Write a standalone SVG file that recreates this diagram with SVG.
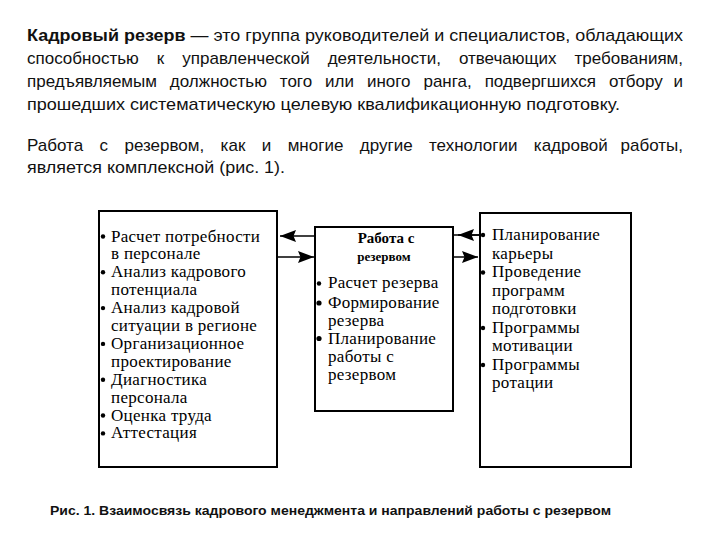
<svg xmlns="http://www.w3.org/2000/svg" width="720" height="540" viewBox="0 0 720 540">
<defs>
<style>
.p{font-family:"Liberation Sans",Arial,sans-serif;font-size:17px;fill:#111}
.e{text-anchor:end}
.b{font-weight:bold}
.cap{font-family:"Liberation Sans",Arial,sans-serif;font-size:13px;font-weight:bold;fill:#111}
.t{font-family:"Liberation Serif","Times New Roman",serif;font-size:17px;letter-spacing:0.3px;fill:#000}
.h{font-family:"Liberation Serif","Times New Roman",serif;font-size:15px;font-weight:bold;fill:#000;text-anchor:middle}
.box{fill:#fff;stroke:#000;stroke-width:2}
.bul{fill:#000}
.con{stroke:#000;stroke-width:1.5;fill:none}
</style>
<marker id="ah" markerUnits="userSpaceOnUse" markerWidth="18" markerHeight="13" refX="16" refY="6.5" orient="auto">
<path d="M0,0.5 L16,6.5 L0,12.5 L2.5,6.5 Z" fill="#000"/>
</marker>
</defs>
<rect width="720" height="540" fill="#fff"/>

<g id="text-para1">
<text class="p" x="27" y="41" textLength="656" lengthAdjust="spacingAndGlyphs"><tspan class="b">Кадровый резерв</tspan> — это группа руководителей и специалистов, обладающих</text>
<text class="p" x="27" y="64" word-spacing="13.3">способностью к управленческой деятельности, отвечающих</text>
<text class="p e" x="683" y="64">требованиям,</text>
<text class="p" x="27" y="87" word-spacing="8.2">предъявляемым должностью того или иного ранга, подвергшихся отбору</text>
<text class="p e" x="683" y="87">и</text>
<text class="p" x="27" y="110" textLength="593" lengthAdjust="spacingAndGlyphs">прошедших систематическую целевую квалификационную подготовку.</text>
</g>
<g id="text-para2">
<text class="p" x="27" y="151" word-spacing="11.7">Работа с резервом, как и многие другие технологии кадровой</text>
<text class="p e" x="683" y="151">работы,</text>
<text class="p" x="27" y="173" textLength="258" lengthAdjust="spacingAndGlyphs">является комплексной (рис. 1).</text>
</g>

<g id="connectors">
<polyline class="con" points="315,236 280,236" marker-end="url(#ah)"/>
<polyline class="con" points="277,257 314,257" marker-end="url(#ah)"/>
<line class="con" x1="453" y1="235" x2="480" y2="235"/>
<polyline class="con" points="480,235 458,235" marker-end="url(#ah)"/>
<polyline class="con" points="453,257 478,257" marker-end="url(#ah)"/>
</g>

<g id="node-left">
<rect class="box" x="99" y="211" width="178" height="256"/>
<circle class="bul" cx="103" cy="236.5" r="2.2"/>
<circle class="bul" cx="103" cy="272.3" r="2.2"/>
<circle class="bul" cx="103" cy="308.1" r="2.2"/>
<circle class="bul" cx="103" cy="343.9" r="2.2"/>
<circle class="bul" cx="103" cy="379.7" r="2.2"/>
<circle class="bul" cx="103" cy="415.5" r="2.2"/>
<circle class="bul" cx="103" cy="433.4" r="2.2"/>
<text class="t" x="111" y="241.5">Расчет потребности</text>
<text class="t" x="111" y="259.4">в персонале</text>
<text class="t" x="111" y="277.3">Анализ кадрового</text>
<text class="t" x="111" y="295.2">потенциала</text>
<text class="t" x="111" y="313.1">Анализ кадровой</text>
<text class="t" x="111" y="331">ситуации в регионе</text>
<text class="t" x="111" y="348.9">Организационное</text>
<text class="t" x="111" y="366.8">проектирование</text>
<text class="t" x="111" y="384.7">Диагностика</text>
<text class="t" x="111" y="402.6">персонала</text>
<text class="t" x="111" y="420.5">Оценка труда</text>
<text class="t" x="111" y="438.4">Аттестация</text>
</g>

<g id="node-middle">
<rect class="box" x="315" y="227" width="138" height="184"/>
<text class="h" x="386" y="243">Работа с</text>
<text class="h" x="384" y="261" style="font-size:13px">резервом</text>
<circle class="bul" cx="319" cy="283.5" r="2.2"/>
<circle class="bul" cx="319" cy="303" r="2.6"/>
<circle class="bul" cx="319" cy="338.5" r="2.6"/>
<text class="t" x="328" y="288">Расчет резерва</text>
<text class="t" x="328" y="307.5">Формирование</text>
<text class="t" x="328" y="325.5">резерва</text>
<text class="t" x="328" y="343.5">Планирование</text>
<text class="t" x="328" y="362">работы с</text>
<text class="t" x="328" y="380">резервом</text>
</g>

<g id="node-right">
<rect class="box" x="480" y="213" width="151" height="254"/>
<circle class="bul" cx="483" cy="235" r="2.2"/>
<circle class="bul" cx="483" cy="272.5" r="2.2"/>
<circle class="bul" cx="483" cy="328" r="2.2"/>
<circle class="bul" cx="483" cy="365" r="2.2"/>
<text class="t" x="492" y="240">Планирование</text>
<text class="t" x="492" y="258.5">карьеры</text>
<text class="t" x="492" y="277">Проведение</text>
<text class="t" x="492" y="295.5">программ</text>
<text class="t" x="492" y="314">подготовки</text>
<text class="t" x="492" y="332.5">Программы</text>
<text class="t" x="492" y="351">мотивации</text>
<text class="t" x="492" y="369.5">Программы</text>
<text class="t" x="492" y="388">ротации</text>
</g>

<g id="caption">
<text class="cap" x="50" y="515" textLength="561" lengthAdjust="spacingAndGlyphs">Рис. 1. Взаимосвязь кадрового менеджмента и направлений работы с резервом</text>
</g>
</svg>
